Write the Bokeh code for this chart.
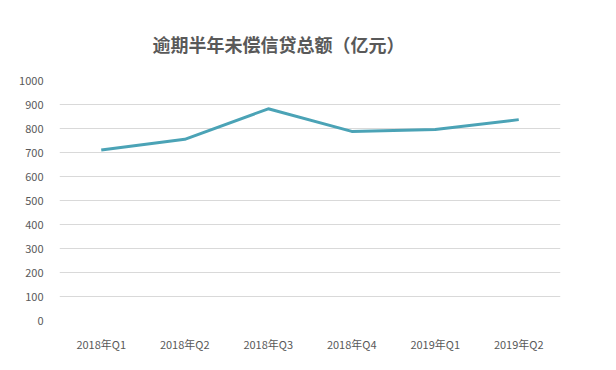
from bokeh.plotting import figure
from bokeh.models import Title, FixedTicker
from bokeh.embed import file_html
from bokeh.resources import INLINE

categories = ["2018年Q1", "2018年Q2", "2018年Q3", "2018年Q4", "2019年Q1", "2019年Q2"]
values = [710, 755, 882, 788, 796, 837]
y_ticks = [0, 100, 200, 300, 400, 500, 600, 700, 800, 900, 1000]
title_text = "逾期半年未偿信贷总额（亿元）"

p = figure(width=600, height=354, x_range=categories, y_range=(0, 1000),
           output_backend="svg", toolbar_location=None,
           min_border_left=59, min_border_right=40, min_border_top=80, min_border_bottom=30)
p.title = None
t = Title(text=title_text, align="left", offset=93, text_font="Noto Sans CJK SC",
          text_font_size="18px", text_font_style="bold", text_color="#595959", standoff=47)
p.add_layout(t, "above")

p.line(categories, values, line_color="#4BA3B6", line_width=3)

p.outline_line_color = None
p.background_fill_color = "white"
p.border_fill_color = "white"

p.xgrid.grid_line_color = None
p.ygrid.grid_line_color = "#D9D9D9"
p.ygrid.grid_line_width = 1
p.yaxis.ticker = FixedTicker(ticks=y_ticks)

for ax in (p.xaxis, p.yaxis):
    ax.axis_line_color = None
    ax.major_tick_line_color = None
    ax.minor_tick_line_color = None
    ax.major_label_text_color = "#595959"
    ax.major_label_text_font = "Noto Sans CJK SC"
    ax.major_label_text_font_size = "11px"
p.yaxis.major_label_standoff = 10
p.xaxis.major_label_standoff = 9

open("out.html", "w").write(file_html(p, INLINE))
